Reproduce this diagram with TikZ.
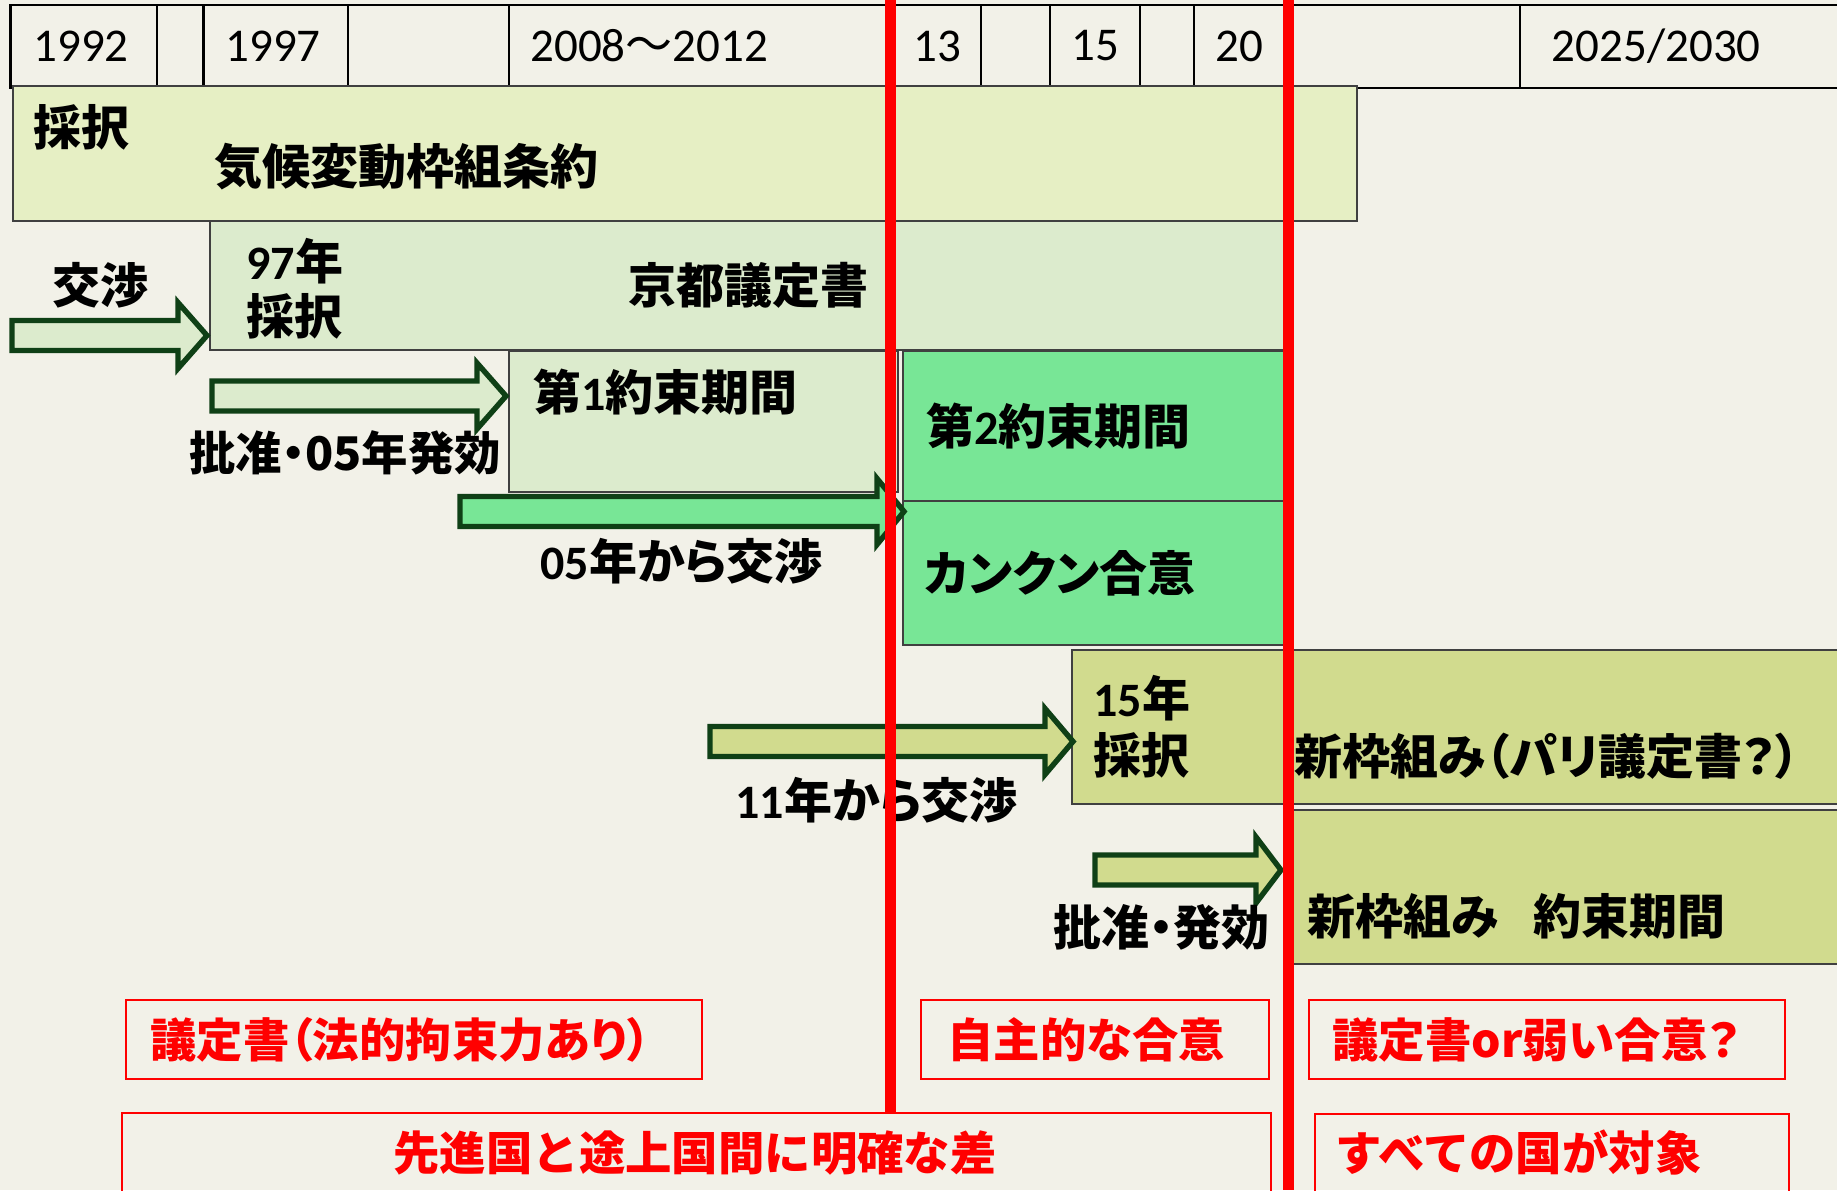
\documentclass[tikz,border=0pt]{standalone}
\usepackage{fontspec}
\newfontfamily\jpfont{Noto Sans CJK JP}[RawFeature=+palt]
\newfontfamily\jpreg{Noto Sans CJK JP}
\newfontfamily\calfont{Carlito}
\newcommand\dg[1]{{\calfont\bfseries #1}}
\definecolor{bg}{HTML}{F2F1E8}
\definecolor{cA}{HTML}{E6EFC4}
\definecolor{cB}{HTML}{DCEBCD}
\definecolor{cC}{HTML}{78E696}
\definecolor{cD}{HTML}{D1DB8E}
\definecolor{arrline}{HTML}{0F4016}
\definecolor{boxline}{HTML}{404040}
\definecolor{rd}{HTML}{FF0000}
\newcommand\blockarrow[5]{%
  \filldraw[arrowline, fill=#5] (#1,#4-15) -- (#2,#4-15) -- (#2,#4-33) -- (#3,#4) -- (#2,#4+33) -- (#2,#4+15) -- (#1,#4+15) -- cycle;}
\begin{document}
\begin{tikzpicture}[x=0.5pt,y=-0.5pt,
  tcell/.style={font=\calfont\fontsize{23.5}{28}\selectfont, anchor=west, inner sep=0},
  jlab/.style={font=\jpfont\bfseries\fontsize{24}{28}\selectfont, anchor=west, inner sep=0},
  rlab/.style={font=\jpfont\bfseries\fontsize{23.2}{28}\selectfont, text=rd, anchor=west, inner sep=0},
  rlabw/.style={font=\jpreg\bfseries\fontsize{23.2}{28}\selectfont, text=rd, anchor=west, inner sep=0},
  tbox/.style={draw=boxline, line width=0.7pt},
  rbox/.style={draw=rd, line width=1pt},
  arrowline/.style={draw=arrline, line width=2.7pt, line join=miter},
  redline/.style={draw=rd, line width=5.5pt},
  tline/.style={draw=black, line width=1.2pt}]
\useasboundingbox (0,0) rectangle (1837,1190);
\fill[bg] (0,0) rectangle (1837,1190);
% table
\draw[tline] (1837,5) -- (10.6,5) -- (10.6,88) -- (1837,88);
\foreach \xx in {156.7,203.6,348,509,890,981,1050,1140,1194,1288,1520}
  \draw[tline] (\xx,5) -- (\xx,88);
\node[tcell] (t1992) at (33,46) {1992};
\node[tcell] (t1997) at (225,46) {1997};
\node[tcell] (t2008) at (530,46) {2008{\jpreg ～}2012};
\node[tcell] (t13) at (913,46) {13};
\node[tcell] (t15) at (1071.5,46) {15};
\node[tcell] (t20) at (1215,46) {20};
\node[tcell] (t2025) at (1551.5,46) {2025/2030};
% boxes
\filldraw[tbox, fill=cA] (13,86) rectangle (1357,221);
\filldraw[tbox, fill=cB] (210,221) rectangle (1284,350);
\filldraw[tbox, fill=cB] (509,351) rectangle (898,492);
\filldraw[tbox, fill=cC] (903,351) rectangle (1284,501);
\filldraw[tbox, fill=cC] (903,501) rectangle (1284,645);
\filldraw[tbox, fill=cD] (1072,650) rectangle (1845,804);
\filldraw[tbox, fill=cD] (1288,810) rectangle (1845,964);
% arrows
\blockarrow{12}{178}{207}{335.5}{cB}
\blockarrow{212}{477}{506}{396}{cB}
\blockarrow{460}{877}{904}{511.5}{cC}
\blockarrow{710}{1045}{1073}{741.5}{cD}
\blockarrow{1095}{1256}{1281}{870}{cD}
% labels
\node[jlab] (l1) at (33,127.5) {採択};
\node[jlab] (l2) at (214,166.5) {気候変動枠組条約};
\node[jlab] (l3) at (52,285.5) {交渉};
\node[jlab] (l4) at (246,261) {\dg{97}年};
\node[jlab] (l5) at (246,316.5) {採択};
\node[jlab] (l6) at (628,285.5) {京都議定書};
\node[jlab] (l7) at (533,392.5) {第\dg{1}約束期間};
\node[jlab, font=\jpfont\bfseries\fontsize{23.2}{28}\selectfont] (l8) at (189,453) {批准・05年発効};
\node[jlab] (l9) at (540,561) {\dg{05}年から交渉};
\node[jlab] (l10) at (926,426) {第\dg{2}約束期間};
\node[jlab] (l11) at (924,573.5) {カンクン合意};
\node[jlab] (l12) at (1093,698.5) {\dg{15}年};
\node[jlab] (l13) at (1093,755) {採択};
\node[jlab] (l14) at (1294,756) {新枠組み（パリ議定書？）};
\node[jlab] (l15) at (735,800) {\dg{11}年から交渉};
\node[jlab] (l16) at (1053,927.5) {批准・発効};
\node[jlab] (l17) at (1307,916.5) {新枠組み\hspace{17.5pt}約束期間};
% bottom red boxes
\draw[rbox] (125.5,1000) rectangle (701.5,1079);
\draw[rbox] (921,1000) rectangle (1269,1079);
\draw[rbox] (1308.6,1000) rectangle (1785,1079);
\draw[rbox] (122,1113) rectangle (1271,1200);
\draw[rbox] (1315,1114) rectangle (1789,1200);
\node[rlab] (r1) at (150,1039.5) {議定書（法的拘束力あり）};
\node[rlab] (r2) at (947,1039.5) {自主的な合意};
\node[rlab] (r3) at (1332,1039.5) {議定書or弱い合意？};
\node[rlabw, anchor=center] (r4) at (695,1152.5) {先進国と途上国間に明確な差};
\node[rlabw] (r5) at (1335,1152.5) {すべての国が対象};
% red vertical lines
\draw[redline] (890,0) -- (890,1113);
\draw[redline] (1288,0) -- (1288,1190);
\end{tikzpicture}
\end{document}
